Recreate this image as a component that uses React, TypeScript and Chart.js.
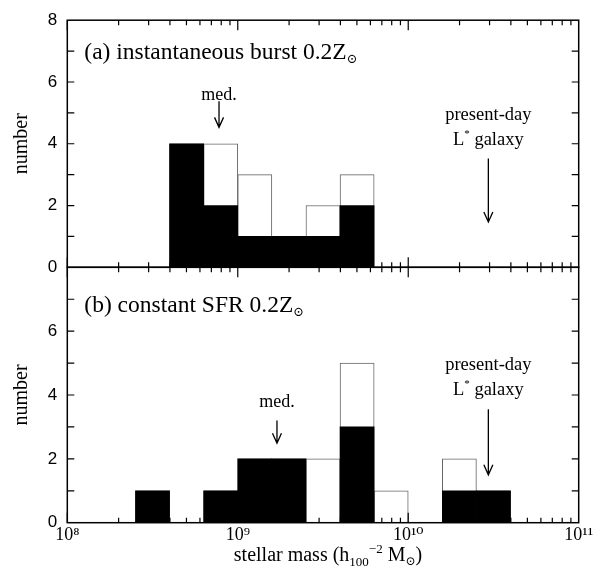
import React, { useEffect, useRef } from 'react';
import { Chart, registerables } from 'chart.js';

Chart.register(...registerables);

// ---- data (log10 of stellar mass bin lower edges, counts) ----
const binLowA = [8.6, 8.8, 9.0, 9.2, 9.4, 9.6];
const totalA = [4, 4, 3, 1, 2, 3];
const filledA = [4, 2, 1, 1, 1, 2];

const binLowB = [8.4, 8.6, 8.8, 9.0, 9.2, 9.4, 9.6, 9.8, 10.0, 10.2, 10.4];
const totalB = [1, 0, 1, 2, 2, 2, 5, 1, 0, 2, 1];
const filledB = [1, 0, 1, 2, 2, 0, 3, 0, 0, 1, 1];

const BIN_WIDTH_DEX = 0.2;
const xTickExponents = [8, 9, 10, 11];
const yTickValues = [0, 2, 4, 6, 8];
const medianLogA = 8.89;
const medianLogB = 9.23;
const lstarLog = 10.47;

const SERIF = '"Liberation Serif", "DejaVu Serif", serif';
const SANS = '"Liberation Sans", "DejaVu Sans", sans-serif';
const SUP = ['⁰', '¹', '²', '³', '⁴', '⁵', '⁶', '⁷', '⁸', '⁹'];

type Seg = { t: string; size: number; dy: number };

function drawRich(ctx: CanvasRenderingContext2D, segs: Seg[], x: number, baseY: number, align: 'left' | 'center') {
  let total = 0;
  const widths: number[] = [];
  for (const s of segs) {
    ctx.font = `${s.size}px ${SERIF}`;
    const w = ctx.measureText(s.t).width;
    widths.push(w);
    total += w;
  }
  let cx = align === 'center' ? x - total / 2 : x;
  ctx.textAlign = 'left';
  ctx.textBaseline = 'alphabetic';
  segs.forEach((s, i) => {
    ctx.font = `${s.size}px ${SERIF}`;
    ctx.fillText(s.t, cx, baseY + s.dy);
    cx += widths[i];
  });
}

function drawArrow(ctx: CanvasRenderingContext2D, x: number, yTop: number, yTip: number) {
  ctx.beginPath();
  ctx.moveTo(x, yTop);
  ctx.lineTo(x, yTip);
  ctx.moveTo(x - 4.5, yTip - 10);
  ctx.lineTo(x, yTip);
  ctx.lineTo(x + 4.5, yTip - 10);
  ctx.stroke();
}

type PanelCfg = {
  label: string;
  labelLog: number;
  labelY: number;
  medianLog: number;
  medTextY: number;
  medArrow: [number, number];
  pdTextY: number;
  lgTextY: number;
  lArrow: [number, number];
  xTitle: boolean;
};

function makeDecor(cfg: PanelCfg) {
  return {
    id: 'panelDecor',
    afterDraw(chart: any) {
      const { ctx, chartArea: a } = chart;
      const x = chart.scales.x;
      const y = chart.scales.y;
      ctx.save();
      ctx.strokeStyle = '#000';
      ctx.fillStyle = '#000';
      // frame
      ctx.lineWidth = 1.5;
      ctx.strokeRect(a.left, a.top, a.right - a.left, a.bottom - a.top);
      // x ticks
      ctx.lineWidth = 1.2;
      ctx.beginPath();
      for (let e = xTickExponents[0]; e < xTickExponents[xTickExponents.length - 1]; e++) {
        for (let m = 1; m <= 9; m++) {
          const px = x.getPixelForValue(m * Math.pow(10, e));
          const len = m === 1 ? 10 : 5;
          ctx.moveTo(px, a.bottom);
          ctx.lineTo(px, a.bottom - len);
          ctx.moveTo(px, a.top);
          ctx.lineTo(px, a.top + len);
        }
      }
      // y ticks
      for (let k = 1; k < 8; k++) {
        const py = y.getPixelForValue(k);
        ctx.moveTo(a.left, py);
        ctx.lineTo(a.left + 7, py);
        ctx.moveTo(a.right, py);
        ctx.lineTo(a.right - 7, py);
      }
      ctx.stroke();

      // panel label
      const lx = x.getPixelForValue(Math.pow(10, cfg.labelLog));
      const ly = y.getPixelForValue(cfg.labelY) + 8;
      drawRich(ctx, [
        { t: cfg.label, size: 23.5, dy: 0 },
        { t: '⊙', size: 13, dy: 4 },
      ], lx, ly, 'left');

      // median arrow
      ctx.lineWidth = 1.3;
      const mx = x.getPixelForValue(Math.pow(10, cfg.medianLog));
      drawRich(ctx, [{ t: 'med.', size: 18, dy: 0 }], mx, y.getPixelForValue(cfg.medTextY) + 6, 'center');
      drawArrow(ctx, mx, y.getPixelForValue(cfg.medArrow[0]), y.getPixelForValue(cfg.medArrow[1]));

      // L* arrow
      const sx = x.getPixelForValue(Math.pow(10, lstarLog));
      drawRich(ctx, [{ t: 'present-day', size: 18.5, dy: 0 }], sx, y.getPixelForValue(cfg.pdTextY) + 6, 'center');
      drawRich(ctx, [
        { t: 'L', size: 18.5, dy: 0 },
        { t: '*', size: 11, dy: -8 },
        { t: ' galaxy', size: 18.5, dy: 0 },
      ], sx, y.getPixelForValue(cfg.lgTextY) + 6, 'center');
      drawArrow(ctx, sx, y.getPixelForValue(cfg.lArrow[0]), y.getPixelForValue(cfg.lArrow[1]));

      if (cfg.xTitle) {
        drawRich(ctx, [
          { t: 'stellar mass (h', size: 20, dy: 0 },
          { t: '100', size: 13, dy: 5 },
          { t: '−2', size: 13, dy: -8 },
          { t: ' M', size: 20, dy: 0 },
          { t: '⊙', size: 12, dy: 4 },
          { t: ')', size: 20, dy: 0 },
        ], (a.left + a.right) / 2 + 5, 561, 'center');
      }
      ctx.restore();
    },
  };
}

function buildConfig(binLow: number[], total: number[], filled: number[], cfg: PanelCfg, area: { top: number; bottom: number }) {
  const centers = binLow.map((v) => Math.pow(10, v + BIN_WIDTH_DEX / 2));
  const xAxisHeight = cfg.xTitle ? 40 : 0;
  return {
    type: 'bar',
    data: {
      datasets: [
        {
          data: centers.map((c, i) => ({ x: c, y: filled[i] })),
          backgroundColor: '#000',
          borderWidth: 0,
          grouped: false,
          barPercentage: 1,
          categoryPercentage: 1,
        },
        {
          data: centers.map((c, i) => ({ x: c, y: total[i] })),
          backgroundColor: '#fff',
          borderColor: '#666',
          borderWidth: 1,
          grouped: false,
          barPercentage: 1,
          categoryPercentage: 1,
        },
      ],
    },
    options: {
      responsive: false,
      animation: false,
      events: [],
      layout: {
        padding: {
          left: 0,
          right: 605 - 578.7,
          top: area.top,
          bottom: 573 - area.bottom - xAxisHeight,
        },
      },
      plugins: { legend: { display: false }, tooltip: { enabled: false } },
      scales: {
        x: {
          type: 'logarithmic',
          min: Math.pow(10, xTickExponents[0]),
          max: Math.pow(10, xTickExponents[xTickExponents.length - 1]),
          display: cfg.xTitle,
          grid: { display: false, drawTicks: false },
          border: { display: false },
          afterBuildTicks: (s: any) => {
            s.ticks = xTickExponents.map((e) => ({ value: Math.pow(10, e) }));
          },
          afterFit: (s: any) => {
            s.height = xAxisHeight;
          },
          ticks: {
            autoSkip: false,
            maxRotation: 0,
            padding: 2,
            color: '#000',
            font: { family: SERIF, size: 18 },
            callback: (v: number) => {
              const e = Math.round(Math.log10(v));
              return '10' + String(e).split('').map((d) => SUP[Number(d)]).join('');
            },
          },
        },
        y: {
          min: 0,
          max: 8,
          grid: { display: false, drawTicks: false },
          border: { display: false },
          afterBuildTicks: (s: any) => {
            s.ticks = yTickValues.map((v) => ({ value: v }));
          },
          afterFit: (s: any) => {
            s.width = 67.3;
          },
          ticks: {
            padding: 10,
            color: '#000',
            font: { family: SANS, size: 17 },
            callback: (v: number) => (cfg.xTitle && v === 8 ? '' : String(v)),
          },
          title: {
            display: true,
            text: 'number',
            color: '#000',
            font: { family: SERIF, size: 20 },
            padding: { top: 10, bottom: 0 },
          },
        },
      },
    },
    plugins: [makeDecor(cfg)],
  };
}

const cfgA: PanelCfg = {
  label: '(a) instantaneous burst 0.2Z',
  labelLog: 8.1,
  labelY: 7.0,
  medianLog: medianLogA,
  medTextY: 5.6,
  medArrow: [5.38, 4.53],
  pdTextY: 4.95,
  lgTextY: 4.15,
  lArrow: [3.52, 1.47],
  xTitle: false,
};

const cfgB: PanelCfg = {
  label: '(b) constant SFR 0.2Z',
  labelLog: 8.1,
  labelY: 6.85,
  medianLog: medianLogB,
  medTextY: 3.8,
  medArrow: [3.2, 2.49],
  pdTextY: 4.98,
  lgTextY: 4.18,
  lArrow: [3.55, 1.5],
  xTitle: true,
};

export default function App() {
  const refA = useRef<HTMLCanvasElement>(null);
  const refB = useRef<HTMLCanvasElement>(null);
  useEffect(() => {
    const a = new Chart(refA.current as HTMLCanvasElement, buildConfig(binLowA, totalA, filledA, cfgA, { top: 12.3, bottom: 267.3 }) as any);
    const b = new Chart(refB.current as HTMLCanvasElement, buildConfig(binLowB, totalB, filledB, cfgB, { top: 267.3, bottom: 522.7 }) as any);
    return () => {
      a.destroy();
      b.destroy();
    };
  }, []);
  const style: React.CSSProperties = { position: 'absolute', left: 0, top: 0, width: 605, height: 573 };
  return (
    <div style={{ position: 'absolute', left: 0, top: 0, width: 605, height: 573, background: '#fff' }}>
      <canvas ref={refA} width={605} height={573} style={style} />
      <canvas ref={refB} width={605} height={573} style={style} />
    </div>
  );
}
